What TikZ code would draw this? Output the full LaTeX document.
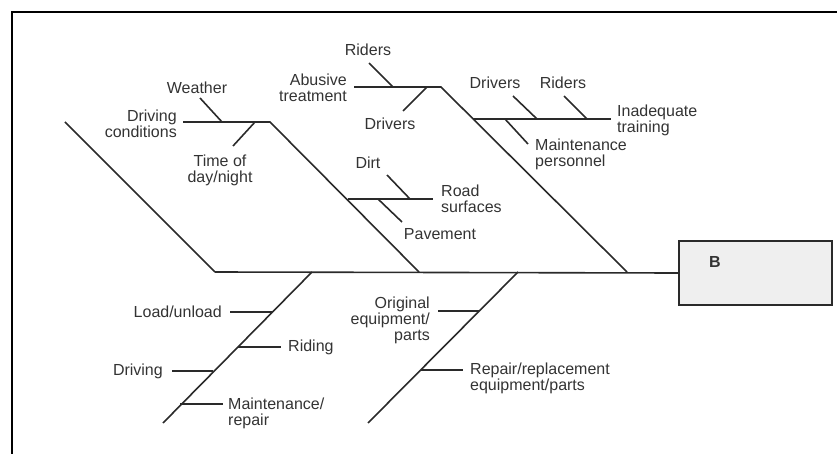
\documentclass[tikz,border=0pt]{standalone}
\usepackage{fontspec}
\setmainfont{Liberation Sans}
\usepackage{xcolor}
\definecolor{bonecol}{HTML}{2A2A2A}
\definecolor{txt}{HTML}{333333}
\definecolor{boxfill}{HTML}{EFEFEF}

\tikzset{
    bone/.style={line width=1.6pt, draw=bonecol},
    cause/.style={inner sep=0pt, text=txt, font=\fontsize{16}{16}\selectfont},
    effectbox/.style={draw=bonecol, line width=2.4pt, fill=boxfill, minimum width=153pt, minimum height=64pt, inner sep=0pt}
}

\begin{document}
\begin{tikzpicture}[x=1pt, y=-1pt]
    \useasboundingbox (0,0) rectangle (837,454);
    % Frame
    \draw[line width=2.4pt, black] (12,454) -- (12,12) -- (837,12);

    % Effect box and spine
    \node[effectbox] (effect) at (755.5,273) {};
    \node[cause, font=\fontsize{16}{16}\selectfont\bfseries] (B) at (715,262) {B};
    \coordinate (tail) at (215,272);
    \draw[bone] (tail) -- (effect.west);

    % Upper bones
    \draw[bone] (65,122) -- (215,272);
    \draw[bone] (183,122) -- (270,122) -- (419,272);
    \draw[bone] (354,87) -- (441,87) -- (627,272);

    % Driving conditions
    \draw[bone] (200,98) -- (222,122);
    \draw[bone] (255,122) -- (233,146);
    \node[cause, anchor=east, align=right] (drivcond) at (177,124) {Driving\\conditions};
    \node[cause] (weather) at (197,88) {Weather};
    \node[cause, align=center] (timeday) at (220,170) {Time of\\day/night};

    % Road surfaces
    \draw[bone] (348,199) -- (433,199);
    \draw[bone] (387,175) -- (410,199);
    \draw[bone] (378,199) -- (402,222);
    \node[cause] (dirt) at (368,163) {Dirt};
    \node[cause, anchor=west, align=left] (roadsurf) at (441,199) {Road\\surfaces};
    \node[cause] (pavement) at (440,234) {Pavement};

    % Abusive treatment
    \draw[bone] (369,63) -- (393,87);
    \draw[bone] (427,87) -- (403,111);
    \node[cause] (ridersA) at (368,50) {Riders};
    \node[cause, anchor=east, align=right] (abusive) at (347,88) {Abusive\\treatment};
    \node[cause] (driversA) at (390,124) {Drivers};

    % Inadequate training
    \draw[bone] (473,119) -- (611,119);
    \draw[bone] (513,96) -- (537,119);
    \draw[bone] (564,96) -- (587,119);
    \draw[bone] (505,119) -- (528,144);
    \node[cause] (driversT) at (495,83) {Drivers};
    \node[cause] (ridersT) at (563,83) {Riders};
    \node[cause, anchor=west, align=left] (training) at (617,120) {Inadequate\\training};
    \node[cause, anchor=west, align=left] (maintpers) at (535,154) {Maintenance\\personnel};

    % Lower bones
    \draw[bone] (312,272) -- (163,423);
    \draw[bone] (518,272) -- (368,423);

    % Operation
    \draw[bone] (230,312) -- (272,312);
    \draw[bone] (238,347) -- (281,347);
    \draw[bone] (172,371) -- (213,371);
    \draw[bone] (180,404) -- (223,404);
    \node[cause, anchor=east] (loadunload) at (222,312) {Load/unload};
    \node[cause, anchor=west] (riding) at (288,347) {Riding};
    \node[cause, anchor=east] (driving) at (163,371) {Driving};
    \node[cause, anchor=west, align=left] (maintrep) at (228,413) {Maintenance/\\repair};

    % Equipment
    \draw[bone] (438,311) -- (479,311);
    \draw[bone] (421,370) -- (463,370);
    \node[cause, anchor=east, align=right] (original) at (430,320) {Original\\equipment/\\parts};
    \node[cause, anchor=west, align=left] (replace) at (470,378) {Repair/replacement\\equipment/parts};
\end{tikzpicture}
\end{document}
